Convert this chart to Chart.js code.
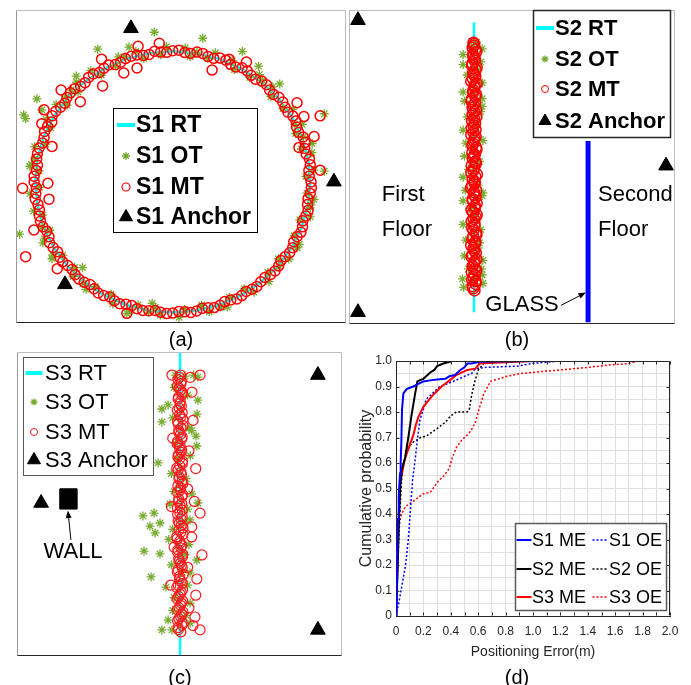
<!DOCTYPE html>
<html><head><meta charset="utf-8">
<script src="https://cdn.jsdelivr.net/npm/chart.js@4.4.1/dist/chart.umd.min.js"></script>
<style>
html,body{margin:0;padding:0;background:#fff;}
#wrap{position:relative;width:691px;height:685px;overflow:hidden;background:#fff;}
canvas{position:absolute;left:0;top:0;}
</style>
</head><body>
<div id="wrap">
<canvas id="cA" width="691" height="685"></canvas>
<canvas id="cB" width="691" height="685"></canvas>
<canvas id="cC" width="691" height="685"></canvas>
<canvas id="cD" width="691" height="685"></canvas>
</div>
<script>
// ---------------- DATA ----------------
// Panel (a): scenario 1, circular track (metres)
const S1_RT = [[5,0],[4.92,0.87],[4.70,1.71],[4.33,2.5],[3.83,3.21],[3.21,3.83],[2.5,4.33],[1.71,4.70],[0.87,4.92],[0,5],[-0.87,4.92],[-1.71,4.70],[-2.5,4.33],[-3.21,3.83],[-3.83,3.21],[-4.33,2.5],[-4.70,1.71],[-4.92,0.87],[-5,0],[-4.92,-0.87],[-4.70,-1.71],[-4.33,-2.5],[-3.83,-3.21],[-3.21,-3.83],[-2.5,-4.33],[-1.71,-4.70],[-0.87,-4.92],[0,-5],[0.87,-4.92],[1.71,-4.70],[2.5,-4.33],[3.21,-3.83],[3.83,-3.21],[4.33,-2.5],[4.70,-1.71],[4.92,-0.87],[5,0]];
const S1_MT = [[5.03,0.00],[4.95,0.44],[4.97,0.88],[4.80,1.28],[4.74,1.72],[4.50,2.10],[4.37,2.52],[4.08,2.86],[3.86,3.24],[3.52,3.52],[3.24,3.86],[2.85,4.08],[2.52,4.37],[2.10,4.50],[1.72,4.74],[1.28,4.80],[0.88,4.97],[0.44,4.95],
 [0.00,5.02],[-0.44,4.97],[-0.86,4.88],[-1.30,4.86],[-1.72,4.72],[-2.09,4.49],[-2.50,4.35],[-2.89,4.13],[-3.19,3.80],[-3.57,3.57],[-3.85,3.23],[-4.08,2.86],[-4.38,2.53],[-4.55,2.12],[-4.68,1.70],[-4.86,1.30],[-4.95,0.88],[-4.96,0.44],
 [-5.04,0.00],[-4.98,-0.44],[-4.90,-0.86],[-4.85,-1.30],[-4.72,-1.72],[-4.50,-2.10],[-4.35,-2.51],[-4.11,-2.88],[-3.82,-3.20],[-3.55,-3.55],[-3.22,-3.84],[-2.86,-4.09],[-2.51,-4.35],[-2.12,-4.55],[-1.70,-4.68],[-1.30,-4.85],[-0.87,-4.93],[-0.44,-4.99],
 [0.00,-5.02],[0.44,-4.97],[0.87,-4.94],[1.29,-4.82],[1.72,-4.72],[2.11,-4.52],[2.51,-4.35],[2.88,-4.11],[3.20,-3.82],[3.55,-3.55],[3.85,-3.22],[4.09,-2.86],[4.36,-2.52],[4.52,-2.10],[4.72,-1.72],[4.84,-1.30],[4.90,-0.86],[5.00,-0.44],
 [4.96,0.22],[5.00,0.66],[4.85,1.07],[4.81,1.51],[4.58,1.89],[4.48,2.33],[4.19,2.67],[4.00,3.06],[3.66,3.35],[3.41,3.72],[3.01,3.93],[2.71,4.25],[2.29,4.40],[1.93,4.66],[1.49,4.73],[1.09,4.92],[0.64,4.92],[0.22,5.04],
 [-0.22,4.96],[-0.66,5.00],[-1.07,4.84],[-1.51,4.81],[-1.89,4.58],[-2.33,4.48],[-2.67,4.19],[-3.06,4.00],[-3.35,3.66],[-3.72,3.41],[-3.93,3.01],[-4.25,2.71],[-4.40,2.29],[-4.66,1.93],[-4.73,1.49],[-4.92,1.09],[-4.92,0.64],[-5.04,0.22],
 [-4.96,-0.22],[-5.00,-0.66],[-4.85,-1.07],[-4.81,-1.51],[-4.58,-1.89],[-4.48,-2.33],[-4.19,-2.67],[-4.00,-3.06],[-3.66,-3.35],[-3.41,-3.72],[-3.01,-3.93],[-2.71,-4.25],[-2.29,-4.40],[-1.93,-4.66],[-1.49,-4.73],[-1.09,-4.92],[-0.64,-4.92],[-0.22,-5.04],
 [0.22,-4.96],[0.66,-5.00],[1.07,-4.84],[1.51,-4.81],[1.89,-4.58],[2.33,-4.48],[2.67,-4.19],[3.06,-4.00],[3.35,-3.66],[3.72,-3.41],[3.93,-3.01],[4.25,-2.71],[4.40,-2.29],[4.66,-1.93],[4.73,-1.49],[4.92,-1.09],[4.92,-0.64],[5.04,-0.22],
 [-1.26,5.19],[-0.49,5.31],[-1.3,4.36],[-1.78,4.17],[-2.59,4.7],[-2.55,3.67],[-4.06,3.52],[-3.36,3.07],[-4.68,2.76],[-4.76,2.23],[-4.39,1.36],[-4.54,-0.05],[-4.5,-0.66],[-5.46,-0.24],[-5.05,-1.84],[-5.35,-2.86],[-4.2,-3.32],[1.43,4.28],[2.05,4.7],[2.68,4.59],[4.52,3.03],[4.77,2.5],[5.36,2.53],[5.14,1.74],[4.59,1.32],[5.36,0.45],[-1.67,-5.03]];
const S1_OT = [[5.13,0.45],[4.68,1.26],[4.71,2.20],[4.01,2.81],[3.64,3.64],[2.80,4.0],[2.16,4.64],[1.27,4.73],[0.45,5.13],[-0.43,4.86],[-1.34,5.00],[-2.07,4.44],[-2.98,4.26],[-3.44,3.44],[-4.24,2.97],[-4.44,2.07],[-5.02,1.35],[-4.86,0.43],[-5.20,-0.45],[-4.73,-1.27],[-4.67,-2.18],[-4.0,-2.80],[-3.62,-3.62],[-2.81,-4.01],[-2.18,-4.67],[-1.26,-4.71],[-0.45,-5.10],[0.43,-4.88],[1.33,-4.97],[2.06,-4.42],[2.95,-4.22],[3.46,-3.46],[4.22,-2.95],[4.42,-2.06],[5.0,-1.34],[4.88,-0.43],
 [4.75,1.73],[3.27,3.89],[0.88,4.97],[-1.74,4.79],[-3.88,3.25],[-5.02,0.89],[-4.75,-1.73],[-3.27,-3.89],[-0.88,-4.98],[1.74,-4.79],[3.87,-3.25],[5.02,-0.89],
 [4.84,0.21],[5.06,1.12],[4.47,1.85],[4.37,2.79],[3.57,3.27],[3.15,4.11],[2.24,4.30],[1.55,4.94],[0.63,4.80],[-0.23,5.18],[-1.05,4.72],[-1.98,4.79],[-2.60,4.09],[-3.50,3.82],[-3.84,2.94],[-4.60,2.39],[-4.62,1.45],[-5.14,0.67],
 [-4.84,-0.21],[-5.06,-1.12],[-4.47,-1.85],[-4.37,-2.79],[-3.57,-3.27],[-3.15,-4.11],[-2.24,-4.30],[-1.55,-4.94],[-0.63,-4.80],[0.23,-5.18],[1.05,-4.72],[1.98,-4.79],[2.60,-4.09],[3.50,-3.82],[3.84,-2.94],[4.60,-2.39],[4.62,-1.45],[5.14,-0.67],
 [-0.67,5.73],[1.09,5.50],[2.53,5.0],[3.12,4.43],[-2.73,5.08],[-1.59,5.16],[-3.51,4.05],[-4.94,3.18],[-5.42,2.57],[-5.35,2.42],[-4.76,2.76],[-3.69,3.52],[-5.57,-2.0],[-5.2,0.6],[-4.72,-2.33],[-4.39,-2.94],[5.51,2.61],[5.51,0.41],[5.07,1.47],[3.89,3.75],[4.44,2.19],[5.0,-0.99],[4.52,-2.52],[-1.67,-5.03],[-0.75,-4.65],[-3.28,-3.28]];
const S1_ANCHOR = [[-1.52,5.88],[5.86,0.01],[-3.92,-3.92]];

// Panel (b): scenario 2, straight track across floors
const S2_RT = [[4.6,0.45],[4.6,11.51]];
const S2_MT = [[4.62,1.28],[4.55,1.44],[4.66,1.63],[4.58,1.78],[4.52,1.97],[4.64,2.12],[4.6,2.31],[4.69,2.46],[4.54,2.65],[4.61,2.80],[4.5,2.99],[4.65,3.14],[4.57,3.33],[4.68,3.48],[4.53,3.67],[4.62,3.82],[4.59,4.01],[4.7,4.16],[4.51,4.35],[4.64,4.50],[4.56,4.69],[4.66,4.84],[4.6,5.03],[4.49,5.18],[4.63,5.37],[4.55,5.52],[4.71,5.71],[4.58,5.86],[4.52,6.05],[4.65,6.20],[4.6,6.39],[4.54,6.54],[4.68,6.73],[4.57,6.88],[4.62,7.07],[4.5,7.22],[4.66,7.41],[4.59,7.56],[4.53,7.75],[4.69,7.90],[4.61,8.09],[4.55,8.24],[4.64,8.43],[4.52,8.58],[4.67,8.77],[4.58,8.92],[4.62,9.11],[4.5,9.26],[4.65,9.45],[4.57,9.60],[4.7,9.79],[4.54,9.94],[4.63,10.13],[4.56,10.28],[4.66,10.47],[4.6,10.62],[4.58,10.73],
 [4.57,1.36],[4.66,1.53],[4.53,1.70],[4.63,1.87],[4.68,2.04],[4.55,2.21],[4.62,2.39],[4.51,2.56],[4.67,2.72],[4.59,2.90],[4.64,3.06],[4.54,3.24],[4.69,3.40],[4.58,3.58],[4.61,3.74],[4.52,3.92],[4.66,4.08],[4.57,4.26],[4.63,4.42],[4.7,4.60],[4.55,4.76],[4.6,4.94],[4.68,5.10],[4.53,5.28],[4.62,5.44],[4.65,5.62],[4.5,5.78],[4.61,5.96],[4.67,6.12],[4.56,6.30],[4.63,6.46],[4.69,6.64],[4.54,6.80],[4.6,6.98],[4.66,7.14],[4.58,7.32],[4.52,7.48],[4.64,7.66],[4.61,7.82],[4.55,8.00],[4.68,8.16],[4.59,8.34],[4.51,8.50],[4.65,8.68],[4.57,8.84],[4.62,9.02],[4.7,9.18],[4.56,9.36],[4.6,9.52],[4.66,9.70],[4.53,9.86],[4.63,10.04],[4.58,10.20],[4.68,10.38],[4.55,10.54],[4.61,10.68]];
const S2_OT = [[4.22,1.40],[4.93,1.55],[4.6,1.7],[4.18,1.72],[4.9,1.87],[4.4,2.1],[4.25,2.6],[4.93,2.43],[4.75,2.9],[4.3,3.2],[4.2,3.8],[4.85,3.6],[4.65,4.1],[4.2,4.7],[4.45,4.4],[4.9,4.9],[4.93,5.0],[4.2,5.6],[4.75,5.3],[4.4,5.9],[4.25,6.4],[4.8,6.2],[4.55,6.7],[4.93,7.0],[4.2,7.4],[4.7,7.6],[4.35,7.9],[4.85,8.1],[4.9,8.3],[4.25,8.5],[4.9,8.6],[4.2,8.85],[4.6,8.95],[4.9,9.2],[4.35,9.5],[4.75,9.7],[4.2,9.9],[4.85,10.0],[4.2,10.28],[4.9,10.5],[4.5,10.6],[4.7,10.75],[4.3,6.9],[4.8,3.1],[4.28,5.1],[4.88,2.1]];
const S2_ANCHOR = [[0.33,11.59],[0.33,0.45],[11.67,6.04]];
const S2_GLASS = [[8.8,0.07],[8.8,6.98]];

// Panel (c): scenario 3, straight track beside a wall
const S3_RT = [[6.02,0],[6.02,12]];
const S3_MT = [[6.05,0.95],[5.95,1.12],[6.1,1.3],[5.98,1.47],[6.08,1.65],[5.92,1.82],[6.04,2.0],[6.12,2.17],[5.97,2.35],[6.06,2.52],[5.9,2.7],[6.1,2.87],[6.0,3.05],[6.14,3.22],[5.94,3.4],[6.07,3.57],[5.99,3.75],[6.11,3.92],[5.93,4.1],[6.05,4.27],[6.02,4.45],[5.91,4.62],[6.13,4.8],[5.98,4.97],[6.06,5.15],[5.95,5.32],[6.1,5.5],[6.01,5.67],[5.92,5.85],[6.08,6.02],[5.97,6.2],[6.12,6.37],[6.03,6.55],[5.94,6.72],[6.09,6.9],[5.99,7.07],[6.05,7.25],[5.9,7.42],[6.11,7.6],[6.0,7.77],[5.96,7.95],[6.08,8.12],[6.02,8.3],[5.93,8.47],[6.1,8.65],[5.98,8.82],[6.06,9.0],[5.95,9.17],[6.12,9.35],[6.0,9.52],[5.92,9.7],[6.07,9.87],[6.03,10.05],[5.96,10.22],[6.1,10.4],[5.99,10.57],[6.05,10.75],[5.94,10.92],[6.04,11.09],
 [5.96,1.04],[6.09,1.21],[5.93,1.39],[6.04,1.56],[6.13,1.74],[5.98,1.91],[6.07,2.09],[5.91,2.26],[6.02,2.44],[6.11,2.61],[5.95,2.79],[6.06,2.96],[6.0,3.14],[5.92,3.31],[6.1,3.49],[6.03,3.66],[5.97,3.84],[6.12,4.01],[5.94,4.19],[6.08,4.36],[6.01,4.54],[5.9,4.71],[6.05,4.89],[6.13,5.06],[5.99,5.24],[6.06,5.41],[5.93,5.59],[6.1,5.76],[6.02,5.94],[5.96,6.11],[6.09,6.29],[5.92,6.46],[6.04,6.64],[6.12,6.81],[5.98,6.99],[6.07,7.16],[5.95,7.34],[6.01,7.51],[6.11,7.69],[5.94,7.86],[6.06,8.04],[6.0,8.21],[5.91,8.39],[6.08,8.56],[6.03,8.74],[5.97,8.91],[6.13,9.09],[5.93,9.26],[6.05,9.44],[6.1,9.61],[5.99,9.79],[6.02,9.96],[5.95,10.14],[6.09,10.31],[6.04,10.49],[5.92,10.66],[6.07,10.84],[6.0,11.0],
 [6.46,10.42],[6.76,5.64],[6.83,3.99],[6.76,1.03],[6.57,1.54],[6.64,3.04],[5.72,11.09],[6.76,11.09],[6.5,9.3],[6.35,8.1],[6.6,7.4],[6.3,6.6],[6.55,6.1],[6.45,4.7],[6.6,2.4],[6.35,1.9],[5.68,2.8],[5.7,5.9],[5.75,8.6],[6.4,11.0],[6.5,1.2],[6.3,3.5],[5.8,4.3],[6.45,5.1]];
const S3_OT = [[4.65,5.53],[5.06,5.64],[4.91,5.13],[5.28,5.25],[5.1,4.86],[4.69,4.14],[5.28,4.03],[4.95,3.12],[5.5,2.72],[5.21,7.62],[5.35,9.75],[5.35,9.24],[5.35,1.03],[5.72,1.03],[6.68,11.01],[6.52,11.09],[6.68,10.1],[6.65,9.55],[6.61,8.68],[6.64,8.29],[6.68,6.04],[6.39,5.37],[6.64,3.79],[6.39,3.28],[6.39,2.09],[6.39,1.3],[5.58,1.42],[5.58,9.91],[5.85,11.09],[6.2,11.05],
 [5.8,10.6],[6.3,10.3],[5.75,9.4],[6.35,9.0],[5.85,8.4],[6.4,7.9],[5.7,7.2],[6.25,7.0],[5.8,6.5],[6.45,6.4],[5.65,6.0],[6.3,5.8],[5.75,5.0],[6.35,4.4],[5.6,4.6],[6.2,4.0],[5.7,3.6],[6.3,2.8],[5.8,2.3],[6.25,1.6],[5.75,1.8],[6.45,8.9],[5.9,7.8],[6.2,5.3],[6.1,3.3]];
const S3_ANCHOR = [[11.11,11.09],[11.11,1.03],[0.89,6.04]];
const S3_WALL = [[1.59,5.80],[2.22,5.80],[2.22,6.60],[1.59,6.60],[1.59,5.80]];

// Panel (d): CDF of positioning error
const S1_ME_X = [0,0.005,0.01,0.015,0.02,0.025,0.03,0.034,0.039,0.044,0.054,0.078,0.1,0.127,0.163,0.2,0.26,0.32,0.36,0.39,0.43,0.47,0.5,0.52,0.55,0.61,0.72,0.9,1.09];
const S1_ME_Y = [0,0.1,0.25,0.38,0.47,0.52,0.56,0.6,0.68,0.81,0.873,0.89,0.895,0.9,0.91,0.92,0.925,0.928,0.93,0.94,0.945,0.965,0.975,0.99,0.99,0.997,0.998,0.999,1.0];
const S2_ME_X = [0,0.01,0.02,0.03,0.04,0.066,0.09,0.114,0.139,0.156,0.175,0.2,0.22,0.25,0.28,0.3,0.345,0.38,0.41];
const S2_ME_Y = [0,0.15,0.35,0.5,0.57,0.62,0.7,0.79,0.87,0.92,0.925,0.93,0.94,0.955,0.965,0.98,0.99,0.995,1.0];
const S3_ME_X = [0,0.01,0.02,0.03,0.041,0.058,0.08,0.1,0.127,0.145,0.163,0.2,0.27,0.333,0.394,0.44,0.52,0.58,0.61,0.8,0.99];
const S3_ME_Y = [0,0.2,0.4,0.52,0.55,0.6,0.64,0.67,0.71,0.75,0.78,0.82,0.867,0.9,0.925,0.945,0.965,0.97,0.99,0.995,1.0];
const S1_OE_X = [0,0.02,0.05,0.07,0.09,0.11,0.12,0.139,0.156,0.175,0.2,0.22,0.26,0.32,0.37,0.44,0.52,0.55,0.58,0.66,0.8,0.89,0.99,1.2];
const S1_OE_Y = [0,0.05,0.14,0.2,0.3,0.45,0.53,0.61,0.69,0.77,0.81,0.85,0.87,0.9,0.91,0.925,0.945,0.95,0.97,0.975,0.978,0.98,0.99,1.0];
const S2_OE_X = [0,0.01,0.02,0.03,0.04,0.05,0.07,0.09,0.12,0.15,0.18,0.22,0.26,0.3,0.36,0.4,0.44,0.52,0.535,0.55,0.57,0.6,0.64,0.7];
const S2_OE_Y = [0,0.15,0.3,0.42,0.53,0.59,0.63,0.66,0.68,0.69,0.7,0.705,0.72,0.735,0.76,0.785,0.8,0.8,0.81,0.86,0.91,0.965,0.99,1.0];
const S3_OE_X = [0,0.005,0.01,0.02,0.04,0.07,0.1,0.15,0.2,0.25,0.27,0.31,0.35,0.39,0.41,0.44,0.48,0.52,0.55,0.58,0.6,0.64,0.69,0.75,0.81,0.9,1.05,1.2,1.4,1.57,1.7,1.77];
const S3_OE_Y = [0,0.1,0.25,0.35,0.4,0.43,0.44,0.46,0.48,0.485,0.5,0.53,0.55,0.58,0.62,0.66,0.69,0.71,0.73,0.76,0.8,0.87,0.92,0.93,0.94,0.95,0.958,0.965,0.975,0.985,0.99,1.0];

// Text
const CAPTIONS = ['(a)','(b)','(c)','(d)'];
const X_TITLE_D = 'Positioning Error(m)';
const Y_TITLE_D = 'Cumulative probability';

// ---------------- RENDERING ----------------
const FS = "'Liberation Sans', Arial, Helvetica, sans-serif";
Chart.defaults.font.family = FS;
const H = Chart.helpers;
const pts = a => a.map(p => ({x: p[0], y: p[1]}));
const zip = (xs, ys) => xs.map((x, i) => ({x: x, y: ys[i]}));
const GREEN = '#77AC30', RED = '#FF0000', CYAN = '#00FFFF';

function seg(ctx, x1, y1, x2, y2, c) {
  ctx.strokeStyle = c; ctx.lineWidth = 1; ctx.setLineDash([]);
  ctx.beginPath(); ctx.moveTo(x1, y1); ctx.lineTo(x2, y2); ctx.stroke();
}
function drawSym(ctx, ds, it) {
  ctx.save();
  if (ds.showLine && !ds.pointRadius) {
    ctx.strokeStyle = ds.borderColor; ctx.lineWidth = it.w || ds.borderWidth;
    ctx.setLineDash(ds.borderDash || []);
    ctx.beginPath(); ctx.moveTo(it.sx - it.len / 2, it.y); ctx.lineTo(it.sx + it.len / 2, it.y); ctx.stroke();
  } else {
    ctx.strokeStyle = ds.borderColor;
    ctx.fillStyle = ds.backgroundColor || 'rgba(0,0,0,0)';
    ctx.lineWidth = it.bw || ds.borderWidth;
    H.drawPoint(ctx, {pointStyle: ds.pointStyle, radius: it.r, borderWidth: ctx.lineWidth, rotation: 0}, it.sx, it.y);
  }
  ctx.restore();
}
function arrow(ctx, x1, y1, x2, y2, head) {
  const a = Math.atan2(y2 - y1, x2 - x1);
  ctx.save();
  ctx.strokeStyle = '#000'; ctx.fillStyle = '#000'; ctx.lineWidth = 1;
  ctx.beginPath(); ctx.moveTo(x1, y1); ctx.lineTo(x2 - Math.cos(a) * head * 0.7, y2 - Math.sin(a) * head * 0.7); ctx.stroke();
  ctx.beginPath(); ctx.moveTo(x2, y2);
  ctx.lineTo(x2 - head * Math.cos(a - 0.38), y2 - head * Math.sin(a - 0.38));
  ctx.lineTo(x2 - head * Math.cos(a + 0.38), y2 - head * Math.sin(a + 0.38));
  ctx.closePath(); ctx.fill();
  ctx.restore();
}

const ANNOT = {
  cA: {
    frame: {top: '#bdbdbd', right: '#bdbdbd', left: '#9a9a9a', bottom: '#262626'},
    legend: {box: [113, 108, 257, 232], border: '#000', bw: 1, font: 'bold 23px ' + FS,
      items: [{ds: 3, sx: 126, y: 125, tx: 136, len: 18, w: 4}, {ds: 2, sx: 126, y: 156, tx: 136, r: 4},
              {ds: 1, sx: 126, y: 187, tx: 136, r: 4, bw: 1.2}, {ds: 0, sx: 126, y: 217, tx: 136, r: 7.5}]},
    caption: {text: CAPTIONS[0], x: 181, y: 340}
  },
  cB: {
    frame: {top: '#bdbdbd', right: '#bdbdbd', left: '#bdbdbd', bottom: '#262626'},
    legend: {box: [533, 10, 670, 137], border: '#262626', bw: 1.5, font: 'bold 22px ' + FS,
      items: [{ds: 4, sx: 545, y: 28, tx: 555, len: 18, w: 4}, {ds: 2, sx: 545, y: 59, tx: 555, r: 3.5},
              {ds: 1, sx: 545, y: 89, tx: 555, r: 3.5, bw: 1}, {ds: 0, sx: 545, y: 121, tx: 555, r: 7}]},
    texts: [{text: 'First', x: 1.21, y: 4.91, align: 'left'}, {text: 'Floor', x: 1.21, y: 3.6, align: 'left'},
            {text: 'Second', x: 9.17, y: 4.91, align: 'left'}, {text: 'Floor', x: 9.17, y: 3.6, align: 'left'},
            {text: 'GLASS', x: 6.37, y: 0.71, align: 'center'}],
    textFont: '22px ' + FS,
    arrows: [{from: [7.8, 0.71], to: [8.72, 1.2]}],
    caption: {text: CAPTIONS[1], x: 517, y: 340}
  },
  cC: {
    frame: {top: '#bdbdbd', right: '#bdbdbd', left: '#9a9a9a', bottom: '#262626'},
    legend: {box: [23, 357, 153, 475], border: '#555', bw: 1, font: '22px ' + FS,
      items: [{ds: 4, sx: 34, y: 373, tx: 45, len: 17, w: 4}, {ds: 2, sx: 34, y: 402, tx: 45, r: 3.5},
              {ds: 1, sx: 34, y: 432, tx: 45, r: 3.5, bw: 1}, {ds: 0, sx: 34, y: 460, tx: 45, r: 7.5}]},
    texts: [{text: 'WALL', x: 2.07, y: 4.1, align: 'center'}],
    textFont: '22px ' + FS,
    arrows: [{from: [1.99, 4.58], to: [1.88, 5.74]}],
    caption: {text: CAPTIONS[2], x: 180, y: 678}
  },
  cD: {
    box: '#262626', inTicks: true,
    legend: {box: [515, 523, 666, 610], border: '#5a5a5a', bw: 1.5, font: '18px ' + FS,
      items: [{ds: 0, sx: 524, y: 540, tx: 532, len: 15, w: 2}, {ds: 1, sx: 524, y: 569, tx: 532, len: 15, w: 2},
              {ds: 2, sx: 524, y: 597, tx: 532, len: 15, w: 2}, {ds: 3, sx: 600, y: 540, tx: 609, len: 15, w: 1.5},
              {ds: 4, sx: 600, y: 569, tx: 609, len: 15, w: 1.5}, {ds: 5, sx: 600, y: 597, tx: 609, len: 15, w: 1.5}]},
    caption: {text: CAPTIONS[3], x: 517, y: 678}
  }
};

const annotPlugin = {
  id: 'annot',
  afterDraw(chart) {
    const o = ANNOT[chart.canvas.id];
    if (!o) return;
    const ctx = chart.ctx, ca = chart.chartArea;
    const sx = chart.scales.x, sy = chart.scales.y;
    ctx.save();
    const L = Math.round(ca.left) + 0.5, R = Math.round(ca.right) - 0.5, T = Math.round(ca.top) + 0.5, B = Math.round(ca.bottom) - 0.5;
    if (o.frame) {
      seg(ctx, L, T, R, T, o.frame.top); seg(ctx, R, T, R, B, o.frame.right);
      seg(ctx, L, T, L, B, o.frame.left); seg(ctx, L, B, R, B, o.frame.bottom);
    }
    if (o.box) {
      if (o.inTicks) {
        sx.ticks.forEach(t => {
          const X = Math.round(sx.getPixelForValue(t.value)) + 0.5;
          seg(ctx, X, B, X, B - 3, o.box); seg(ctx, X, T, X, T + 3, o.box);
        });
        sy.ticks.forEach(t => {
          if (Math.round(t.value * 20) % 2 !== 0) return;
          const Y = Math.round(sy.getPixelForValue(t.value)) + 0.5;
          seg(ctx, L, Y, L + 3, Y, o.box); seg(ctx, R, Y, R - 3, Y, o.box);
        });
      }
      seg(ctx, L, T, R, T, o.box); seg(ctx, R, T, R, B, o.box);
    }
    (o.texts || []).forEach(t => {
      ctx.font = o.textFont; ctx.fillStyle = '#000'; ctx.textAlign = t.align; ctx.textBaseline = 'middle';
      ctx.fillText(t.text, sx.getPixelForValue(t.x), sy.getPixelForValue(t.y));
    });
    (o.arrows || []).forEach(a => {
      arrow(ctx, sx.getPixelForValue(a.from[0]), sy.getPixelForValue(a.from[1]),
                 sx.getPixelForValue(a.to[0]), sy.getPixelForValue(a.to[1]), 8);
    });
    if (o.legend) {
      const lg = o.legend, b = lg.box;
      ctx.fillStyle = '#fff'; ctx.fillRect(b[0], b[1], b[2] - b[0], b[3] - b[1]);
      ctx.strokeStyle = lg.border; ctx.lineWidth = lg.bw; ctx.setLineDash([]);
      ctx.strokeRect(b[0] + 0.5, b[1] + 0.5, b[2] - b[0], b[3] - b[1]);
      lg.items.forEach(it => {
        const ds = chart.data.datasets[it.ds];
        drawSym(ctx, ds, it);
        ctx.font = lg.font; ctx.fillStyle = '#000'; ctx.textAlign = 'left'; ctx.textBaseline = 'middle';
        ctx.fillText(ds.label, it.tx, it.y + 1);
      });
    }
    if (o.caption) {
      ctx.font = '20px ' + FS; ctx.fillStyle = '#000'; ctx.textAlign = 'center'; ctx.textBaseline = 'middle';
      ctx.fillText(o.caption.text, o.caption.x, o.caption.y);
    }
    ctx.restore();
  }
};
Chart.register(annotPlugin);

function mapOptions(pad, xr, yr) {
  return {
    responsive: false, animation: false, devicePixelRatio: 1, events: [],
    layout: {padding: pad},
    scales: {
      x: {type: 'linear', display: false, min: xr[0], max: xr[1]},
      y: {type: 'linear', display: false, min: yr[0], max: yr[1]}
    },
    plugins: {legend: {display: false}, tooltip: {enabled: false}}
  };
}
function anchorDs(label, data) {
  return {label: label, data: pts(data), pointStyle: 'triangle', pointRadius: 8.5, backgroundColor: '#000', borderColor: '#000', borderWidth: 1, order: 0};
}
function mtDs(label, data, bw, r, color) {
  return {label: label, data: pts(data), pointStyle: 'circle', pointRadius: r, backgroundColor: 'rgba(0,0,0,0)', borderColor: color || RED, borderWidth: bw, order: 1};
}
function otDs(label, data) {
  return {label: label, data: pts(data), pointStyle: 'star', pointRadius: 4.5, borderColor: GREEN, backgroundColor: GREEN, borderWidth: 1.3, order: 2};
}
function rtDs(label, data) {
  return {label: label, data: pts(data), showLine: true, pointRadius: 0, borderColor: CYAN, borderWidth: 2.5, order: 3};
}

// Panel (a)
new Chart(document.getElementById('cA'), {
  type: 'scatter',
  data: {datasets: [anchorDs('S1 Anchor', S1_ANCHOR), mtDs('S1 MT', S1_MT, 1.5, 5), otDs('S1 OT', S1_OT), rtDs('S1 RT', S1_RT)]},
  options: mapOptions({left: 16, top: 6, right: 345, bottom: 362}, [-5.7, 6.3], [-5.4, 6.6])
});

// Panel (b)
new Chart(document.getElementById('cB'), {
  type: 'scatter',
  data: {datasets: [anchorDs('S2 Anchor', S2_ANCHOR), mtDs('S2 MT', S2_MT, 1.5, 5.5), otDs('S2 OT', S2_OT),
    {label: 'GLASS', data: pts(S2_GLASS), showLine: true, pointRadius: 0, borderColor: '#0000FF', borderWidth: 5, order: 4},
    rtDs('S2 RT', S2_RT)]},
  options: mapOptions({left: 349, top: 4, right: 16, bottom: 361}, [0, 12], [0, 12])
});

// Panel (c)
new Chart(document.getElementById('cC'), {
  type: 'scatter',
  data: {datasets: [anchorDs('S3 Anchor', S3_ANCHOR), mtDs('S3 MT', S3_MT, 1.2, 5, '#FF1a1a'), otDs('S3 OT', S3_OT),
    {label: 'WALL', data: pts(S3_WALL), showLine: true, pointRadius: 0, borderColor: '#000', backgroundColor: '#000', borderWidth: 1, fill: 'shape', order: 0},
    rtDs('S3 RT', S3_RT)]},
  options: mapOptions({left: 17, top: 352, right: 349, bottom: 29}, [0, 12], [0, 12])
});

// Panel (d)
function cdfDs(label, xs, ys, color, dotted) {
  return {label: label, data: zip(xs, ys), showLine: true, pointRadius: 0, borderColor: color,
    borderWidth: dotted ? 1.5 : 2, borderDash: dotted ? [2, 2] : [], tension: 0};
}
const tickColor = '#262626';
new Chart(document.getElementById('cD'), {
  type: 'scatter',
  data: {datasets: [
    cdfDs('S1 ME', S1_ME_X, S1_ME_Y, '#0000FF', false),
    cdfDs('S2 ME', S2_ME_X, S2_ME_Y, '#000000', false),
    cdfDs('S3 ME', S3_ME_X, S3_ME_Y, '#FF0000', false),
    cdfDs('S1 OE', S1_OE_X, S1_OE_Y, '#0000FF', true),
    cdfDs('S2 OE', S2_OE_X, S2_OE_Y, '#000000', true),
    cdfDs('S3 OE', S3_OE_X, S3_OE_Y, '#FF0000', true)
  ]},
  options: {
    responsive: false, animation: false, devicePixelRatio: 1, events: [],
    layout: {padding: {left: 346, top: 361, right: 21, bottom: 21}},
    scales: {
      x: {type: 'linear', min: 0, max: 2, afterFit: s => { s.height = 48; },
        ticks: {stepSize: 0.1, maxTicksLimit: 100, autoSkip: false, maxRotation: 0, padding: 8, color: tickColor, font: {size: 12},
          callback: v => { const k = Math.round(v * 10); return k % 2 === 0 ? (k === 0 ? '0' : (k / 10).toFixed(1)) : ''; }},
        grid: {color: '#e0e0e0', drawTicks: false}, border: {color: tickColor},
        title: {display: true, text: X_TITLE_D, color: tickColor, font: {size: 14}, padding: {top: 0, bottom: 3}}},
      y: {type: 'linear', min: 0, max: 1, afterFit: s => { s.width = 50; },
        ticks: {stepSize: 0.05, maxTicksLimit: 100, autoSkip: false, padding: 4, color: tickColor, font: {size: 12},
          callback: v => { const k = Math.round(v * 20); return k % 2 === 0 ? (k === 0 ? '0' : (k / 20).toFixed(1)) : ''; }},
        grid: {color: '#e0e0e0', drawTicks: false}, border: {color: tickColor},
        title: {display: true, text: Y_TITLE_D, color: tickColor, font: {size: 16}, padding: {top: 11, bottom: 0}}}
    },
    plugins: {legend: {display: false}, tooltip: {enabled: false}}
  }
});
</script>
</body></html>
